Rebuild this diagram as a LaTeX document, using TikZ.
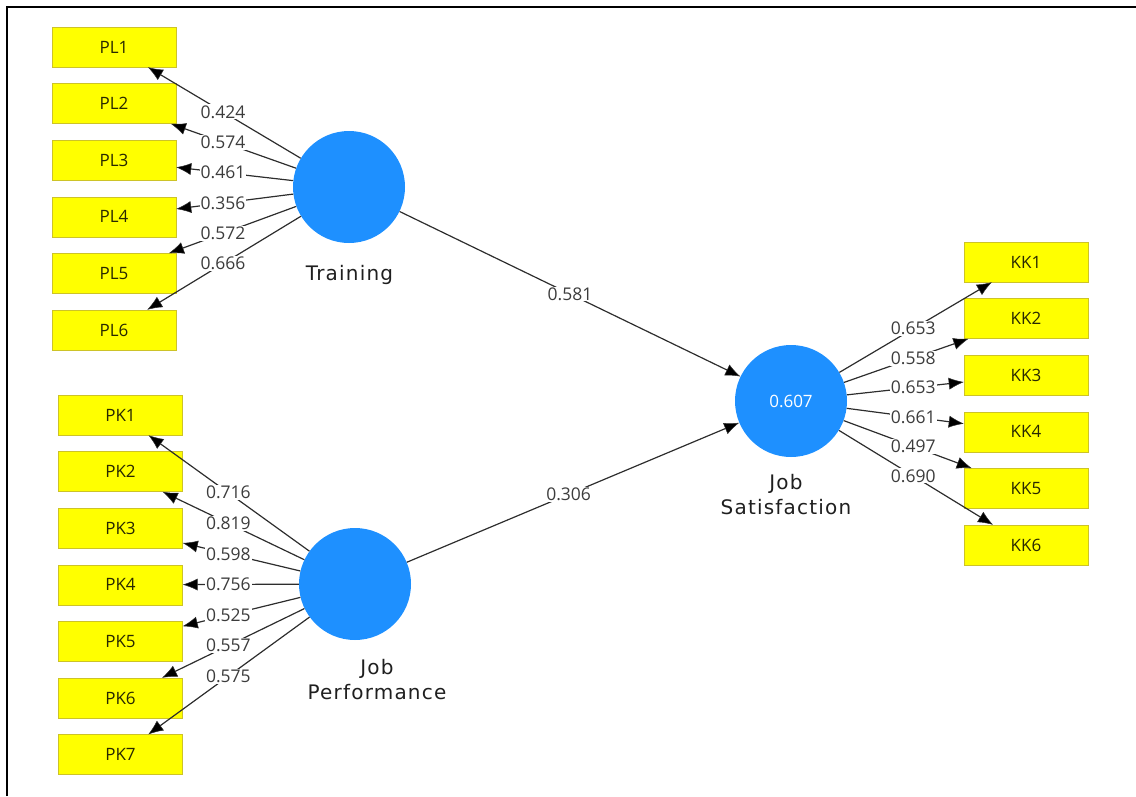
\documentclass[tikz,border=0pt]{standalone}
\usepackage{fontspec}
\setmainfont{Open Sans}
\newfontfamily\lvfont[LetterSpace=6]{DejaVu Sans}
\usetikzlibrary{arrows.meta,calc}
\definecolor{ylw}{RGB}{255,255,0}
\definecolor{ylwborder}{RGB}{205,195,40}
\definecolor{lvblue}{RGB}{30,144,255}
\definecolor{lblgray}{RGB}{60,60,60}
\definecolor{linegray}{RGB}{45,45,45}
\begin{document}
\begin{tikzpicture}[x=1pt,y=-1pt,
 indbox/.style={rectangle,draw=ylwborder,fill=ylw,minimum width=124pt,minimum height=40pt,inner sep=0pt,font=\fontsize{17}{19}\selectfont,text={rgb,255:red,40;green,40;blue,0}},
 lv/.style={circle,fill=lvblue,minimum size=112pt,inner sep=0pt,text=white,font=\fontsize{17}{19}\selectfont},
 lvlabel/.style={font=\lvfont\fontsize{20}{25}\selectfont,text=black!88,align=center},
 conn/.style={draw=linegray,line width=1.2pt,-{Latex[length=15pt,width=12pt,fill=black,line width=0.5pt]}},
 coef/.style={fill=white,inner sep=1pt,font=\fontsize{17.5}{19}\selectfont,text=lblgray}
]
\useasboundingbox (0,0) rectangle (1136,796);
\draw[line width=2pt] (7,796) -- (7,7) -- (1136,7);

% latent variables
\node[lv] (T) at (349,187) {};
\node[lv] (JP) at (355,584) {};
\node[lv] (JS) at (791,401) {0.607};
\node[lvlabel] (Tl) at (349.5,275) {Training};
\node[lvlabel] (JPl) at (377,680) {Job\\Performance};
\node[lvlabel] (JSl) at (786,495) {Job\\Satisfaction};

% indicators
\foreach \i in {1,...,6} {
  \node[indbox] (PL\i) at (114,{47+56.6*(\i-1)}) {PL\i};
  \node[indbox] (KK\i) at (1026,{262+56.6*(\i-1)}) {KK\i};
}
\foreach \i in {1,...,7} {
  \node[indbox] (PK\i) at (120.5,{415+56.6*(\i-1)}) {PK\i};
}

% connectors
\foreach \i in {1,...,6} {
  \draw[conn] (T) -- (PL\i);
  \draw[conn] (JS) -- (KK\i);
}
\foreach \i in {1,...,7} {
  \draw[conn] (JP) -- (PK\i);
}
\draw[conn] (T) -- (JS);
\draw[conn] (JP) -- (JS);

% coefficients
\foreach \i/\v in {1/0.424,2/0.574,3/0.461,4/0.356,5/0.572,6/0.666} {
  \node[coef] at ($(T.center)!0.536!(PL\i.center)$) {\v};
}
\foreach \i/\v in {1/0.653,2/0.558,3/0.653,4/0.661,5/0.497,6/0.690} {
  \node[coef] at ($(JS.center)!0.52!(KK\i.center)$) {\v};
}
\foreach \i/\v in {1/0.716,2/0.819,3/0.598,4/0.756,5/0.525,6/0.557,7/0.575} {
  \node[coef] at ($(JP.center)!0.54!(PK\i.center)$) {\v};
}
\node[coef] at ($(T.center)!0.5!(JS.center)$) {0.581};
\node[coef] at ($(JP.center)!0.49!(JS.center)$) {0.306};
\end{tikzpicture}
\end{document}
